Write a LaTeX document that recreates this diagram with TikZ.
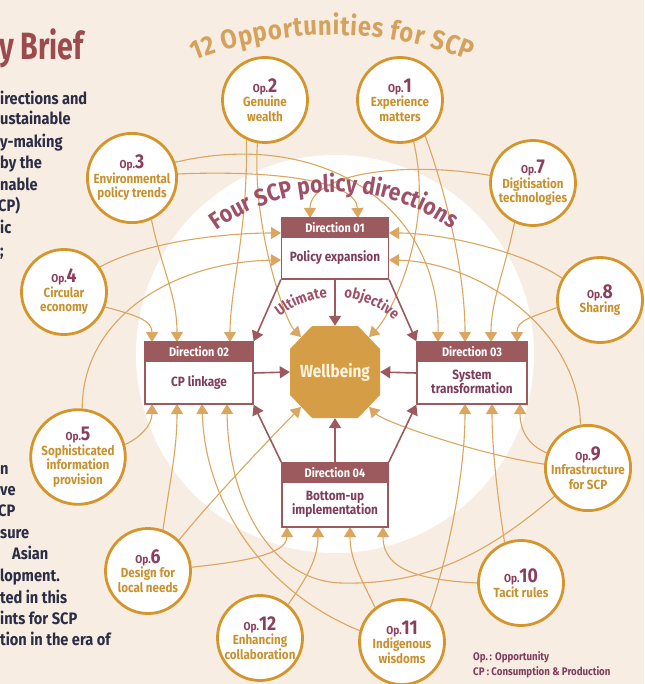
\documentclass[tikz,border=0pt]{standalone}
\usepackage{fontspec}
\usetikzlibrary{arrows.meta,decorations.text,backgrounds}
\newfontfamily\cf[FakeStretch=0.88]{Fira Sans}
\newfontfamily\cft[FakeStretch=0.75]{Fira Sans}
\definecolor{bgc}{HTML}{F8EDE2}
\definecolor{gold}{HTML}{D4952C}
\definecolor{goldtext}{HTML}{C8912F}
\definecolor{oplab}{HTML}{8B3F5F}
\definecolor{tanl}{HTML}{DBA660}
\definecolor{maroon}{HTML}{9C5A5E}
\definecolor{boxtext}{HTML}{7E3D5C}
\definecolor{wbc}{HTML}{D59E46}
\definecolor{wbtext}{HTML}{FFF4E0}
\definecolor{navy}{HTML}{2A2D45}
\definecolor{titlered}{HTML}{9B4A4E}
\definecolor{curvemar}{HTML}{9E5068}
\definecolor{tant}{HTML}{D4A25C}
\pgfdeclarelayer{lines}
\pgfsetlayers{background,lines,main}
\newcommand\opl[1]{{\color{oplab}\fontsize{11.5}{11.5}\selectfont Op.\fontsize{20}{20}\selectfont#1}}
\tikzset{
  opc/.style={circle, draw=gold, line width=2.8pt, fill=white, minimum size=85pt, inner sep=0pt,
    align=center, text=goldtext, font=\cf\bfseries\fontsize{13.2}{14.5}\selectfont},
  conn/.style={draw=tanl, line width=1.1pt, -{Triangle[width=12pt,length=10pt]}},
  marr/.style={draw=maroon, line width=1.6pt, -{Triangle[width=12pt,length=10pt]}},
  dirbox/.style={draw=maroon, line width=1.3pt, fill=white, inner sep=0pt},
  dirhead/.style={draw=maroon, fill=maroon, line width=1.3pt, inner sep=0pt, minimum height=19pt,
    text=white, font=\cf\bfseries\fontsize{12.4}{13}\selectfont},
  dirtext/.style={align=center, text=boxtext, inner sep=0pt, font=\cf\bfseries\fontsize{13.4}{14}\selectfont},
  wbt/.style={inner sep=0pt, minimum width=90pt, minimum height=92pt, text=wbtext,
    font=\cf\bfseries\fontsize{17.5}{17.5}\selectfont},
  lefttxt/.style={anchor=base west, inner sep=0pt, text=navy, font=\cf\bfseries\fontsize{16.6}{16.6}\selectfont},
  legend/.style={anchor=west, inner sep=0pt, text=boxtext, font=\cf\bfseries\fontsize{11}{12}\selectfont},
}
\begin{document}
\begin{tikzpicture}[x=1pt,y=1pt]
\useasboundingbox (0,0) rectangle (644,-684);
\begin{pgfonlayer}{background}
\fill[bgc] (0,0) rectangle (644,-684);
\fill[white] (335,-354) circle (199);
\end{pgfonlayer}

% left column text
\node[anchor=base west, inner sep=0pt, text=titlered, font=\cft\bfseries\fontsize{38}{38}\selectfont] (title) at (-1,-60) {y Brief};
\node[lefttxt] (l1) at (0,-105) {irections and};
\node[lefttxt] (l2) at (0,-125) {ustainable};
\node[lefttxt] (l3) at (0,-148) {y-making};
\node[lefttxt] (l4) at (0,-169) {by the};
\node[lefttxt] (l5) at (0,-191) {nable};
\node[lefttxt] (l6) at (-2,-212) {CP)};
\node[lefttxt] (l7) at (0,-234) {ic};
\node[lefttxt] (l8) at (0,-256) {;};
\node[lefttxt] (m1) at (0,-474) {n};
\node[lefttxt] (m2) at (0,-495) {ve};
\node[lefttxt] (m3) at (-2,-516) {CP};
\node[lefttxt] (m4) at (0,-538) {sure};
\node[lefttxt] (m5) at (12,-559) {Asian};
\node[lefttxt] (m6) at (0,-581) {lopment.};
\node[lefttxt] (m7) at (0,-603) {ted in this};
\node[lefttxt] (m8) at (0,-624) {ints for SCP};
\node[lefttxt] (m9) at (0,-645) {tion in the era of};

% curved titles
\path[decorate, decoration={text along path, text align=fit to path, text color=tant,
  text={|\cf\bfseries\fontsize{27}{27}\selectfont|12 Opportunities for SCP}}]
  ([shift={(111:385)}]332,-420) arc[start angle=111, end angle=69, radius=385];
\path[decorate, decoration={text along path, text align=fit to path, text color=curvemar,
  text={|\cf\bfseries\fontsize{24}{24}\selectfont|Four SCP policy directions}}]
  ([shift={(126:202)}]335,-394) arc[start angle=126, end angle=55, radius=202];
\path[decorate, decoration={text along path, text align=center, text color=curvemar,
  text={|\cf\bfseries\fontsize{15}{15}\selectfont|Ultimate}}]
  ([shift={(131:88)}]335,-385) arc[start angle=131, end angle=93, radius=88];
\path[decorate, decoration={text along path, text align=center, text color=curvemar,
  text={|\cf\bfseries\fontsize{15}{15}\selectfont|objective}}]
  ([shift={(87:88)}]335,-385) arc[start angle=87, end angle=45, radius=88];

% opportunities
\node[opc] (op1) at (400,-100) {\opl{1}\\Experience\\matters};
\node[opc] (op2) at (265,-100) {\opl{2}\\Genuine\\wealth};
\node[opc] (op3) at (132,-178) {\opl{3}\\Environmental\\policy trends};
\node[opc] (op4) at (64,-292) {\opl{4}\\Circular\\economy};
\node[opc] (op5) at (78,-457) {\opl{5}\\Sophisticated\\information\\provision};
\node[opc] (op6) at (148,-571) {\opl{6}\\Design for\\local needs};
\node[opc] (op7) at (533,-183) {\opl{7}\\Digitisation\\technologies};
\node[opc] (op8) at (600,-300) {\opl{8}\\Sharing};
\node[opc] (op9) at (588,-468) {\opl{9}\\Infrastructure\\for SCP};
\node[opc] (op10) at (521,-583) {\opl{10}\\Tacit rules};
\node[opc] (op11) at (402,-642) {\opl{11}\\Indigenous\\wisdoms};
\node[opc] (op12) at (260,-638) {\opl{12}\\Enhancing\\collaboration};

% directions
\node[dirbox, minimum width=107pt, minimum height=61pt] (dir1) at (335,-248.5) {};
\node[dirhead, minimum width=107pt, anchor=north] (dir1h) at (dir1.north) {Direction 01};
\node[dirtext] (dir1t) at (335,-258) {Policy expansion};
\node[dirbox, minimum width=108pt, minimum height=62pt] (dir2) at (199,-373) {};
\node[dirhead, minimum width=108pt, anchor=north] (dir2h) at (dir2.north) {Direction 02};
\node[dirtext] (dir2t) at (199,-383) {CP linkage};
\node[dirbox, minimum width=110pt, minimum height=62pt] (dir3) at (472,-373) {};
\node[dirhead, minimum width=110pt, anchor=north] (dir3h) at (dir3.north) {Direction 03};
\node[dirtext] (dir3t) at (472,-382) {System\\transformation};
\node[dirbox, minimum width=106pt, minimum height=64pt] (dir4) at (335,-495) {};
\node[dirhead, minimum width=106pt, anchor=north] (dir4h) at (dir4.north) {Direction 04};
\node[dirtext] (dir4t) at (335,-504.5) {Bottom-up\\implementation};

% wellbeing
\fill[wbc] (312,-326) -- (358,-326) -- (380,-349) -- (380,-395) -- (358,-418) -- (312,-418) -- (290,-395) -- (290,-349) -- cycle;
\node[wbt] (wb) at (335,-372) {Wellbeing};

% arrow targets
\coordinate (e1) at (310,-218); \coordinate (e2) at (358,-218);
\coordinate (f1) at (281,-233); \coordinate (f2) at (281,-260);
\coordinate (h1) at (389,-233); \coordinate (h2) at (389,-260);
\coordinate (g1) at (152,-342); \coordinate (g2) at (177,-342); \coordinate (g3) at (230,-342);
\coordinate (a1) at (152,-404); \coordinate (a2) at (177,-404); \coordinate (a3) at (202,-404); \coordinate (a4) at (227,-404);
\coordinate (d1) at (438,-342); \coordinate (d2) at (465,-342); \coordinate (d3) at (491,-342); \coordinate (d4) at (517,-342);
\coordinate (c1) at (465,-404); \coordinate (c2) at (492,-404); \coordinate (c3) at (520,-404);
\coordinate (b1) at (287,-527); \coordinate (b2) at (318,-527); \coordinate (b3) at (350,-527); \coordinate (b4) at (383,-527);
\coordinate (wtl) at (301,-337); \coordinate (wtr) at (369,-337);
\coordinate (wbl) at (301,-407); \coordinate (wbr) at (369,-407);

% maroon arrows
\draw[marr] (dir1.south) -- (wb.north);
\draw[marr] (dir1.south west) -- (dir2.north east);
\draw[marr] (dir1.south east) -- (dir3.north west);
\draw[marr] (dir2.east) -- (wb.west);
\draw[marr] (dir3.west) -- (wb.east);
\draw[marr] (dir4.north) -- (wb.south);
\draw[marr] (dir4.north west) -- (dir2.south east);
\draw[marr] (dir4.north east) -- (dir3.south west);

% connectors
\begin{pgfonlayer}{lines}
\draw[conn] (op1.-55) .. controls (445,-190) and (465,-270) .. (d2);
\draw[conn] (op1.-72) .. controls (435,-230) and (390,-316) .. (wtr);
\draw[conn] (op2.-115) .. controls (248,-230) and (230,-290) .. (g3);
\draw[conn] (op2.-100) .. controls (252,-230) and (286,-322) .. (wtl);
\draw[conn] (op3.-65) .. controls (162,-270) and (177,-295) .. (g2);
\draw[conn] (op3.5) .. controls (270,-170) and (356,-180) .. (e2);
\draw[conn] (op3.20) .. controls (320,-128) and (440,-205) .. (d1);
\draw[conn] (op7.-115) .. controls (505,-270) and (491,-300) .. (d3);
\draw[conn] (op7.170) .. controls (400,-160) and (310,-175) .. (e1);
\draw[conn] (op4.35) .. controls (150,-240) and (230,-233) .. (f1);
\draw[conn] (op4.-20) .. controls (135,-315) and (152,-320) .. (g1);
\draw[conn] (op5.85) .. controls (82,-320) and (170,-262) .. (f2);
\draw[conn] (op5.15) .. controls (140,-438) and (152,-425) .. (a1);
\draw[conn] (op6.70) .. controls (170,-480) and (177,-450) .. (a2);
\draw[conn] (op6.5) .. controls (240,-562) and (287,-555) .. (b1);
\draw[conn] (op6.45) .. controls (220,-490) and (286,-422) .. (wbl);
\draw[conn] (op12.50) .. controls (305,-580) and (318,-560) .. (b2);
\draw[conn] (op11.128) .. controls (362,-580) and (350,-560) .. (b3);
\draw[conn] (op11.165) .. controls (260,-590) and (205,-500) .. (a3);
\draw[conn] (op11.50) .. controls (450,-550) and (465,-470) .. (c1);
\draw[conn] (op10.112) .. controls (498,-500) and (492,-450) .. (c2);
\draw[conn] (op10.180) .. controls (420,-580) and (383,-570) .. (b4);
\draw[conn] (op9.160) .. controls (528,-445) and (520,-430) .. (c3);
\draw[conn] (op9.175) .. controls (480,-455) and (384,-422) .. (wbr);
\draw[conn] (op9.220) .. controls (480,-560) and (420,-585) .. (340,-583) .. controls (270,-580) and (228,-500) .. (a4);
\draw[conn] (op8.150) .. controls (520,-250) and (440,-233) .. (h1);
\draw[conn] (op8.190) .. controls (530,-318) and (517,-320) .. (d4);
\draw[conn] (op9.100) .. controls (580,-330) and (480,-262) .. (h2);
\end{pgfonlayer}

% legend
\node[legend] (lg1) at (473,-657) {Op.\,: Opportunity};
\node[legend] (lg2) at (473,-672) {CP : Consumption \& Production};
\end{tikzpicture}
\end{document}
